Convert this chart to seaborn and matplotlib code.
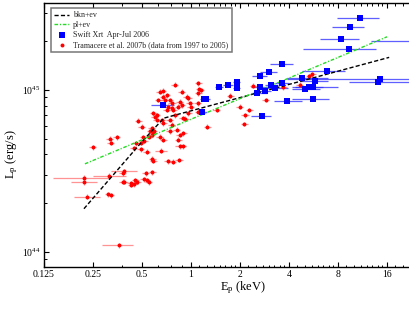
import numpy as np
import pandas as pd
import matplotlib
matplotlib.use("Agg")
import matplotlib.pyplot as plt
import seaborn as sns
from matplotlib.ticker import FixedLocator, FixedFormatter, LogLocator, NullFormatter

# ---------------- data (E in keV, L in units of 1e45 erg/s) ----------------
blue_E = [10.9, 9.5, 8.4, 9.3, 24.3, 3.62, 6.8, 3.0, 2.64, 4.78,
          14.4, 14.0, 5.75, 1.91, 1.69, 1.49, 1.92, 2.64, 3.09, 3.64,
          3.3, 5.04, 5.3, 5.65, 2.56, 2.85, 1.21, 1.24, 5.65, 3.87,
          0.673, 1.17, 2.72]
blue_L = [2.78, 2.46, 2.07, 1.79, 2.02, 1.45, 1.31, 1.285, 1.215, 1.19,
          1.17, 1.125, 1.14, 1.115, 1.08, 1.04, 1.025, 1.05, 1.07, 1.105,
          1.025, 1.015, 1.045, 1.04, 0.963, 0.981, 0.876, 0.876, 0.876, 0.852,
          0.812, 0.73, 0.695]
blue_E_lo = [7.9, 7.4, 6.2, 4.9, 12.8, 3.06, 4.78, 2.65, 2.38, 3.87,
             3.9, 9.4, 4.67, 1.82, 1.57, 1.41, 1.82, 2.35, 2.85, 3.3,
             2.92, 4.2, 4.2, 4.35, 2.36, 2.6, 1.13, 1.16, 4.2, 3.25,
             0.57, 1.12, 2.34]
blue_E_hi = [14.2, 11.6, 10.7, 13.7, 30.0, 4.21, 8.8, 3.39, 2.92, 6.98,
             30.0, 30.0, 6.98, 2.0, 1.82, 1.58, 2.0, 3.06, 3.4, 4.0,
             3.95, 6.2, 8.0, 6.5, 2.92, 3.1, 1.27, 1.3, 7.0, 4.78,
             0.79, 1.25, 3.12]

red_E = [0.25, 0.318, 0.322, 0.35, 0.22, 0.22, 0.231, 0.314, 0.385, 0.38,
         0.31, 0.322, 0.38, 0.39, 0.43, 0.447, 0.427, 0.456, 0.468, 0.527,
         0.579, 0.515, 0.534, 0.552, 0.361, 0.444, 0.46, 0.49, 0.515, 0.474,
         0.497, 0.574, 0.562, 0.587, 0.579, 0.587, 0.49, 0.555, 0.51, 0.587,
         0.6, 0.615, 0.645, 0.676, 0.709, 0.743, 0.67, 0.69, 0.725, 0.66,
         0.676, 0.743, 0.76, 0.645, 0.676, 0.65, 0.725, 0.77, 0.797, 0.875,
         0.855, 0.875, 0.835, 0.815, 0.855, 0.896, 0.835, 0.855, 0.89, 0.845,
         0.963, 0.985, 1.0, 1.11, 1.125, 1.145, 1.11, 0.94, 0.963, 0.89,
         0.92, 1.11, 1.1, 1.26, 1.44, 1.74, 2.0, 2.15, 2.28, 2.13,
         2.42, 2.88, 3.7, 4.67, 5.33, 5.55, 0.78, 0.76, 0.709, 0.63,
         0.574, 0.59, 0.615, 0.534, 0.765, 0.743, 0.797]
red_L = [0.443, 0.5, 0.474, 0.51, 0.287, 0.269, 0.22, 0.296, 0.314, 0.307,
         0.228, 0.224, 0.272, 0.272, 0.26, 0.262, 0.266, 0.277, 0.272, 0.307,
         0.31, 0.282, 0.277, 0.269, 0.11, 0.437, 0.47, 0.474, 0.487, 0.647,
         0.595, 0.58, 0.555, 0.54, 0.376, 0.367, 0.431, 0.516, 0.51, 0.718,
         0.685, 0.7, 0.976, 0.91, 0.93, 0.868, 0.99, 0.868, 0.79, 0.653,
         0.623, 0.653, 0.61, 0.516, 0.492, 0.423, 0.364, 0.36, 1.08, 0.976,
         0.848, 0.808, 0.79, 0.567, 0.528, 0.54, 0.492, 0.448, 0.448, 0.37,
         0.718, 0.828, 0.79, 0.954, 1.01, 1.0, 1.1, 0.91, 0.89, 0.67,
         0.666, 0.735, 0.828, 0.595, 0.753, 0.923, 0.79, 0.70, 0.753, 0.617,
         1.06, 0.868, 1.04, 1.08, 1.22, 1.25, 0.753, 0.771, 0.753, 0.868,
         0.528, 0.555, 0.653, 0.417, 0.828, 0.555, 0.70]
# points with wide energy error bars: index -> (E_lo, E_hi)
red_wide_bars = {4: (0.141, 0.314), 5: (0.182, 0.263), 6: (0.191, 0.276),
                 7: (0.25, 0.40), 8: (0.324, 0.463), 24: (0.282, 0.441),
                 55: (0.60, 0.71), 56: (0.68, 0.78), 67: (0.80, 0.93)}
RED_E_FRAC = 0.05    # typical fractional energy error
RED_L_FRAC = 0.035   # typical fractional luminosity error

# model curves (vertices)
bkn_E = [0.22, 0.5, 0.68, 16.5]
bkn_L = [0.185, 0.48, 0.67, 1.59]
pl_E = [0.223, 16.0]
pl_L = [0.35, 2.13]

E_ticks = [0.125, 0.25, 0.5, 1, 2, 4, 8, 16]
E_ticklabels = ["0.125", "0.25", "0.5", "1", "2", "4", "8", "16"]
L_ticks = [1e44, 1e45]
L_ticklabels = [r"$\mathregular{10^{44}}$", r"$\mathregular{10^{45}}$"]

# ---------------- style ----------------
sns.set_theme(style="ticks")
plt.rcParams['font.family'] = ['Liberation Serif', 'DejaVu Serif']
plt.rcParams['mathtext.fontset'] = 'custom'
plt.rcParams['mathtext.rm'] = 'Liberation Serif'
plt.rcParams['mathtext.it'] = 'Liberation Serif:italic'

W, H = 409, 316
fig = plt.figure(figsize=(W / 100, H / 100), dpi=100)
fig.patch.set_facecolor('white')
left, right, top, bottom = 44, 443, 3, 266.5
ax = fig.add_axes([left / W, 1 - bottom / H, (right - left) / W, (bottom - top) / H])
ax.set_facecolor('white')
ax.set_xscale('log', base=2)
ax.set_yscale('log')

S = 1e45
bE = np.array(blue_E); bL = np.array(blue_L) * S
rE = np.array(red_E); rL = np.array(red_L) * S

# error bars
ax.errorbar(bE, bL, xerr=[bE - np.array(blue_E_lo), np.array(blue_E_hi) - bE],
            yerr=bL * 0.02, fmt='none', ecolor='#2a2aff', elinewidth=0.9,
            alpha=0.75, capsize=0, zorder=2)
r_lo = rE * (1 - RED_E_FRAC); r_hi = rE * (1 + RED_E_FRAC)
for i, (lo, hi) in red_wide_bars.items():
    r_lo[i] = lo; r_hi[i] = hi
ax.errorbar(rE, rL, xerr=[rE - r_lo, r_hi - rE], yerr=rL * RED_L_FRAC,
            fmt='none', ecolor='#ff4a4a', elinewidth=0.9, alpha=0.6,
            capsize=0, zorder=2)

# models
sns.lineplot(x=bkn_E, y=np.array(bkn_L) * S, ax=ax, color='black', lw=1.0,
             estimator=None, sort=False, label='bkn+ev', zorder=4)
sns.lineplot(x=pl_E, y=np.array(pl_L) * S, ax=ax, color='#22dd22', lw=1.0,
             estimator=None, sort=False, label='pl+ev', zorder=4)
ax.lines[-2].set_dashes([3.0, 1.6])
ax.lines[-1].set_dashes([2.6, 1.3, 0.8, 1.3])

# points
sns.scatterplot(x=bE, y=bL, ax=ax, marker='s', color='#0000ff', s=13,
                linewidth=0, label='Swift Xrt  Apr-Jul 2006', zorder=5)
sns.scatterplot(x=rE, y=rL, ax=ax, marker='o', color='#ff0000', s=8,
                linewidth=0, label='Tramacere et al. 2007b (data from 1997 to 2005)',
                zorder=3)

# axes
xmax = 0.125 * 2 ** ((right - left) / 49.0)
ax.set_xlim(0.125, xmax)
ax.set_ylim(10 ** (45 - 176.5 / 162), 10 ** (45 + 87 / 162))
ax.xaxis.set_major_locator(FixedLocator(E_ticks))
ax.xaxis.set_major_formatter(FixedFormatter(E_ticklabels))
minor = []
a = 0.125
while a < xmax:
    step = max(0.125, a / 8)
    v = a + step
    while v < 2 * a - 1e-9:
        minor.append(v)
        v += step
    a *= 2
ax.xaxis.set_minor_locator(FixedLocator(minor))
ax.xaxis.set_minor_formatter(NullFormatter())
ax.yaxis.set_major_locator(FixedLocator(L_ticks))
ax.yaxis.set_major_formatter(FixedFormatter(L_ticklabels))
ax.yaxis.set_minor_locator(LogLocator(base=10, subs=range(2, 10)))
ax.yaxis.set_minor_formatter(NullFormatter())
ax.tick_params(which='both', direction='in', top=True, right=True, colors='black')
ax.tick_params(which='major', length=3.6, width=0.8, labelsize=7, pad=2.5)
ax.tick_params(which='minor', length=1.8, width=0.7)
for sp in ax.spines.values():
    sp.set_color('black'); sp.set_linewidth(1.0)

ax.set_xlabel(r"E$_\mathregular{p}$ (keV)", fontsize=9, color='black')
ax.set_ylabel(r"L$_\mathregular{p}$ (erg/s)", fontsize=9, color='black')
ax.xaxis.set_label_coords(0.5, -0.08)
ax.xaxis.label.set_va('center')
ax.yaxis.set_label_coords(-0.080, 0.427)
ax.yaxis.label.set_va('center')

# legend
h, l = ax.get_legend_handles_labels()
order = ['bkn+ev', 'pl+ev', 'Swift Xrt  Apr-Jul 2006',
         'Tramacere et al. 2007b (data from 1997 to 2005)']
hh = [h[l.index(o)] for o in order]
leg = ax.legend(hh, order, loc='upper left', bbox_to_anchor=(0.0168, 0.98),
                borderaxespad=0, fontsize=5.8, frameon=True, fancybox=False,
                handlelength=1.9, handletextpad=0.5, borderpad=0.4,
                labelspacing=0.22, markerscale=1.0)
leg.get_frame().set_edgecolor('#555555')
leg.get_frame().set_linewidth(1.1)

fig.savefig('out.png', dpi=100, facecolor='white')
